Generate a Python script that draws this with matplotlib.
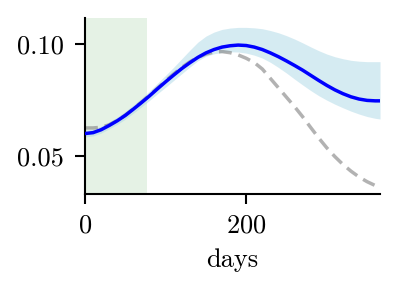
import matplotlib
matplotlib.use("Agg")
import matplotlib.pyplot as plt
from matplotlib.ticker import FormatStrFormatter

# values
days = [0, 10, 20, 30, 40, 50, 60, 70, 80, 90, 100, 110, 120, 130, 140,
        150, 160, 170, 180, 190, 200, 210, 220, 230, 240, 250, 260, 270,
        280, 290, 300, 310, 320, 330, 340, 350, 360, 366]
mean = [0.0600, 0.0604, 0.0617, 0.0636, 0.0657, 0.0681, 0.0709, 0.0738,
        0.0768, 0.0800, 0.0831, 0.0861, 0.0890, 0.0916, 0.0940, 0.0960,
        0.0975, 0.0986, 0.0992, 0.0995, 0.0993, 0.0986, 0.0975, 0.0960,
        0.0943, 0.0924, 0.0904, 0.0883, 0.0860, 0.0837, 0.0815, 0.0795,
        0.0778, 0.0764, 0.0754, 0.0748, 0.0746, 0.0746]
upper = [0.0615, 0.0620, 0.0633, 0.0652, 0.0674, 0.0699, 0.0728, 0.0758,
         0.0790, 0.0825, 0.0860, 0.0896, 0.0934, 0.0972, 0.1008, 0.1035,
         0.1053, 0.1065, 0.1071, 0.1074, 0.1074, 0.1072, 0.1068, 0.1060,
         0.1050, 0.1037, 0.1022, 0.1005, 0.0987, 0.0970, 0.0955, 0.0943,
         0.0934, 0.0927, 0.0923, 0.0921, 0.0921, 0.0921]
lower = [0.0585, 0.0589, 0.0602, 0.0621, 0.0641, 0.0664, 0.0691, 0.0719,
         0.0748, 0.0778, 0.0807, 0.0837, 0.0867, 0.0897, 0.0925, 0.0945,
         0.0956, 0.0962, 0.0965, 0.0964, 0.0959, 0.0950, 0.0937, 0.0918,
         0.0895, 0.0870, 0.0843, 0.0817, 0.0792, 0.0769, 0.0749, 0.0731,
         0.0715, 0.0700, 0.0687, 0.0676, 0.0668, 0.0665]
baseline = [0.0625, 0.0625, 0.0628, 0.0639, 0.0658, 0.0682, 0.0710, 0.0740,
            0.0771, 0.0803, 0.0835, 0.0866, 0.0895, 0.0920, 0.0940, 0.0955,
            0.0964, 0.0966, 0.0961, 0.0951, 0.0936, 0.0917, 0.0888, 0.0846,
            0.0804, 0.0762, 0.0720, 0.0675, 0.0627, 0.0580, 0.0536, 0.0497,
            0.0462, 0.0432, 0.0406, 0.0385, 0.0368, 0.0360]
shade_end = 77

plt.rcParams["font.family"] = "cmr10"
plt.rcParams["axes.formatter.use_mathtext"] = True

fig = plt.figure(figsize=(3.98, 2.90), dpi=100)
ax = fig.add_axes([0.2136, 0.331, 0.7412, 0.607])

ax.axvspan(0, shade_end, color="green", alpha=0.1, lw=0, zorder=0)
ax.fill_between(days, lower, upper, color="lightblue", alpha=0.5, lw=0, zorder=1)
ax.plot(days, baseline, color="gray", alpha=0.6, lw=2.5, ls="--",
        dashes=(3.7, 2.0), dash_joinstyle="round", zorder=2)
ax.plot(days, mean, color="blue", lw=2.5, solid_joinstyle="round", zorder=3)

ax.set_xlim(0, 366)
ax.set_ylim(0.033, 0.1116)
ax.set_xticks([0, 200])
ax.set_yticks([0.05, 0.10])
ax.yaxis.set_major_formatter(FormatStrFormatter("%.2f"))

for side in ("top", "right"):
    ax.spines[side].set_visible(False)
for side in ("left", "bottom"):
    ax.spines[side].set_linewidth(1.5)
ax.tick_params(axis="both", labelsize=19, width=1.5, length=7)
ax.tick_params(axis="x", pad=7)
ax.tick_params(axis="y", pad=8)
ax.set_xlabel("days", fontsize=19, labelpad=8)

fig.savefig("out.png", dpi=100)
